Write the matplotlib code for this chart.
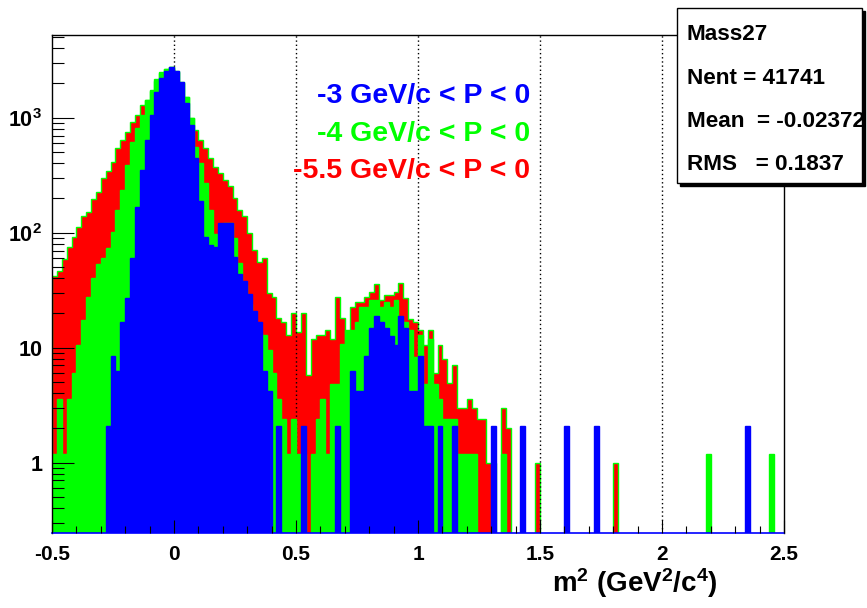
import numpy as np
import matplotlib
matplotlib.use("Agg")
import matplotlib.pyplot as plt
from matplotlib.patches import Rectangle
from matplotlib.ticker import FixedLocator, LogLocator, MultipleLocator, NullFormatter

plt.rcParams['font.family'] = ['Liberation Sans', 'DejaVu Sans']
plt.rcParams['font.weight'] = 'bold'
plt.rcParams['mathtext.fontset'] = 'custom'
plt.rcParams['mathtext.rm'] = 'Liberation Sans:bold'
plt.rcParams['mathtext.bf'] = 'Liberation Sans:bold'
plt.rcParams['mathtext.it'] = 'Liberation Sans:bold'

# binning of the m^2 histograms
x_lo, x_hi, n_bins = -0.5, 2.5, 150

# -5.5 GeV/c < P < 0
red_counts = [
    42, 46, 59, 75, 92, 112, 140, 151, 195, 225,
    300, 345, 410, 540, 640, 750, 920, 1050, 1290, 1440,
    1740, 2090, 2500, 2660, 2775, 2570, 2000, 1500, 1000, 780,
    640, 540, 450, 375, 330, 290, 255, 199, 158, 140,
    100, 71, 56, 60, 29.6, 27.8, 18, 16.8, 12.9, 19.9,
    13.8, 19.9, 5.8, 12, 12.9, 12.9, 14.2, 11.8, 27.8, 18,
    11, 22.7, 25.1, 25, 27.8, 30.7, 36, 26, 28.8, 28.5,
    30.7, 36.3, 26.9, 17.7, 16.8, 14.2, 10.5, 14.2, 6, 10.5,
    8, 4.9, 7, 3, 3, 3.6, 3, 2.4, 2.4, 1,
    1, 0, 3, 2, 0, 0, 0, 0, 0, 1,
    0, 0, 0, 0, 0, 0, 0, 0, 0, 0,
    0, 0, 0, 0, 0, 1, 0, 0, 0, 0,
    0, 0, 0, 0, 0, 0, 0, 0, 0, 0,
    0, 0, 0, 0, 0, 0, 0, 0, 0, 0,
    0, 0, 0, 0, 0, 0, 0, 0, 0, 0,
]

# -4 GeV/c < P < 0
green_counts = [
    1.2, 3.6, 1.2, 3.6, 6, 10.5, 17.4, 27.6, 40, 53,
    60, 73, 101, 158, 235, 385, 615, 815, 1050, 1420,
    1700, 2150, 2450, 2635, 2775, 2520, 2040, 1500, 1000, 560,
    400, 268, 158, 98, 81, 121, 121, 90, 55, 35,
    24, 15.7, 13.3, 12.9, 9.5, 6, 3.6, 2.4, 1.2, 2.4,
    1.2, 1.2, 0, 1.2, 2.4, 3.6, 1.2, 4.8, 4.8, 10.7,
    14.3, 14.3, 16.7, 22.6, 22.6, 26, 26, 22.6, 25, 22.6,
    26, 17.9, 16.7, 14.3, 8.3, 13, 4.8, 12, 4.8, 3.6,
    2.4, 2.4, 2.4, 1.2, 1.2, 1.2, 1.2, 0, 0, 0,
    0, 0, 1.2, 0, 0, 0, 0, 0, 0, 0,
    0, 0, 0, 0, 0, 0, 0, 0, 0, 0,
    0, 0, 0, 0, 0, 0, 0, 0, 0, 0,
    0, 0, 0, 0, 0, 0, 0, 0, 0, 0,
    0, 0, 0, 0, 1.2, 0, 0, 0, 0, 0,
    0, 0, 0, 0, 0, 0, 0, 1.2, 0, 0,
]

# -3 GeV/c < P < 0
blue_counts = [
    0, 0, 0, 0, 0, 0, 0, 0, 0, 0,
    0, 2.1, 8.4, 6.3, 16.8, 27.3, 60, 167, 350, 640,
    1050, 1680, 2200, 2540, 2775, 2570, 2040, 1340, 860, 450,
    190, 92, 78, 75, 121, 121, 121, 61, 44, 37.8,
    29.4, 21, 16.8, 6.3, 4.2, 0, 2.1, 0, 0, 0,
    0, 2.1, 0, 0, 0, 0, 0, 0, 2.1, 0,
    0, 6.3, 4.2, 4.2, 8.4, 14.7, 18.9, 16.8, 14.7, 12.6,
    10.5, 18.9, 14.7, 4.2, 4.2, 8.4, 2.1, 2.1, 0, 2.1,
    0, 0, 2.1, 0, 0, 0, 0, 0, 0, 0,
    2.1, 0, 0, 0, 0, 0, 2.1, 0, 0, 0,
    0, 0, 0, 0, 0, 2.1, 0, 0, 0, 0,
    0, 2.1, 0, 0, 0, 0, 0, 0, 0, 0,
    0, 0, 0, 0, 0, 0, 0, 0, 0, 0,
    0, 0, 0, 0, 0, 0, 0, 0, 0, 0,
    0, 0, 2.1, 0, 0, 0, 0, 0, 0, 0,
]

legend_labels = ['-3 GeV/c < P < 0', '-4 GeV/c < P < 0', '-5.5 GeV/c < P < 0']
legend_colors = ['#0000ff', '#00ff00', '#ff0000']
stats_lines = ['Mass27', 'Nent = 41741', 'Mean  = -0.02372', 'RMS   = 0.1837']

W, H = 867, 608
fig = plt.figure(figsize=(W / 100, H / 100), dpi=100)


def fx(px):
    return px / W


def fy(py):
    return 1 - py / H


ax = fig.add_axes([fx(52), fy(532.5), fx(784) - fx(52), fy(35) - fy(532.5)])
ax.set_yscale('log')
ymin, ymax = 0.247, 5240
floor = 1e-3
edges = np.linspace(x_lo, x_hi, n_bins + 1)


def clean(v):
    v = np.asarray(v, float)
    return np.where(v > 0, v, floor)


# red drawn first, then grid, then green and blue on top
ax.stairs(clean(red_counts), edges, baseline=floor, fill=True,
          facecolor='#ff0000', edgecolor='#00ff00', linewidth=1, zorder=1)
for xg in [0, 0.5, 1, 1.5, 2]:
    ax.axvline(xg, color='black', lw=1, ls=(0, (1, 2)), zorder=1.5)
ax.stairs(clean(green_counts), edges, baseline=floor, fill=True,
          facecolor='#00ff00', edgecolor='#00ff00', linewidth=1, zorder=1.6)
ax.stairs(clean(blue_counts), edges, baseline=floor, fill=True,
          facecolor='#0000ff', edgecolor='#0000ff', linewidth=1, zorder=1.7)

ax.set_xlim(x_lo, x_hi)
ax.set_ylim(ymin, ymax)

ax.set_xticks([-0.5, 0, 0.5, 1, 1.5, 2, 2.5])
ax.set_xticklabels(['-0.5', '0', '0.5', '1', '1.5', '2', '2.5'], fontsize=15)
ax.xaxis.set_minor_locator(MultipleLocator(0.1))
ax.yaxis.set_major_locator(FixedLocator([1, 10, 100, 1000]))
ax.set_yticklabels(['1', '10', r'$10^{2}$', r'$10^{3}$'], fontsize=15.5)
ax.yaxis.set_minor_locator(LogLocator(base=10, subs=np.arange(2, 10)))
ax.yaxis.set_minor_formatter(NullFormatter())

ax.tick_params(which='both', direction='in', top=False, right=False, width=0.8, color='black')
ax.tick_params(axis='x', which='major', length=9.5, pad=9)
ax.tick_params(axis='x', which='minor', length=5)
ax.tick_params(axis='y', which='major', length=15.5, pad=7)
ax.tick_params(axis='y', which='minor', length=8.5)
ax.set_axisbelow(False)

for side in ['left', 'top', 'right']:
    ax.spines[side].set_linewidth(1)
    ax.spines[side].set_color('black')
ax.spines['bottom'].set_color('#0000ff')
ax.spines['bottom'].set_linewidth(1.2)

# legend-like coloured labels
for lab, col, yb in zip(legend_labels, legend_colors, [103, 141, 178]):
    fig.text(fx(530), fy(yb), lab, color=col, fontsize=20.5, fontweight='bold',
             ha='right', va='baseline')

# axis title
fig.text(fx(718), fy(592), r'm$^{2}$ (GeV$^{2}$/c$^{4}$)', fontsize=20,
         fontweight='bold', ha='right', va='baseline')

# stats box with shadow
fig.add_artist(Rectangle((fx(680), fy(186)), (865 - 680) / W, (186 - 11) / H,
                         transform=fig.transFigure, facecolor='black',
                         edgecolor='black', zorder=5))
fig.add_artist(Rectangle((fx(677), fy(183)), (862 - 677) / W, (183 - 8) / H,
                         transform=fig.transFigure, facecolor='white',
                         edgecolor='black', linewidth=1, zorder=6))
for line, yb in zip(stats_lines, [40, 83.5, 127, 170]):
    fig.text(fx(687), fy(yb), line, fontsize=16.2, fontweight='bold',
             ha='left', va='baseline', zorder=7)

fig.savefig('out.png', dpi=100, facecolor='white')
